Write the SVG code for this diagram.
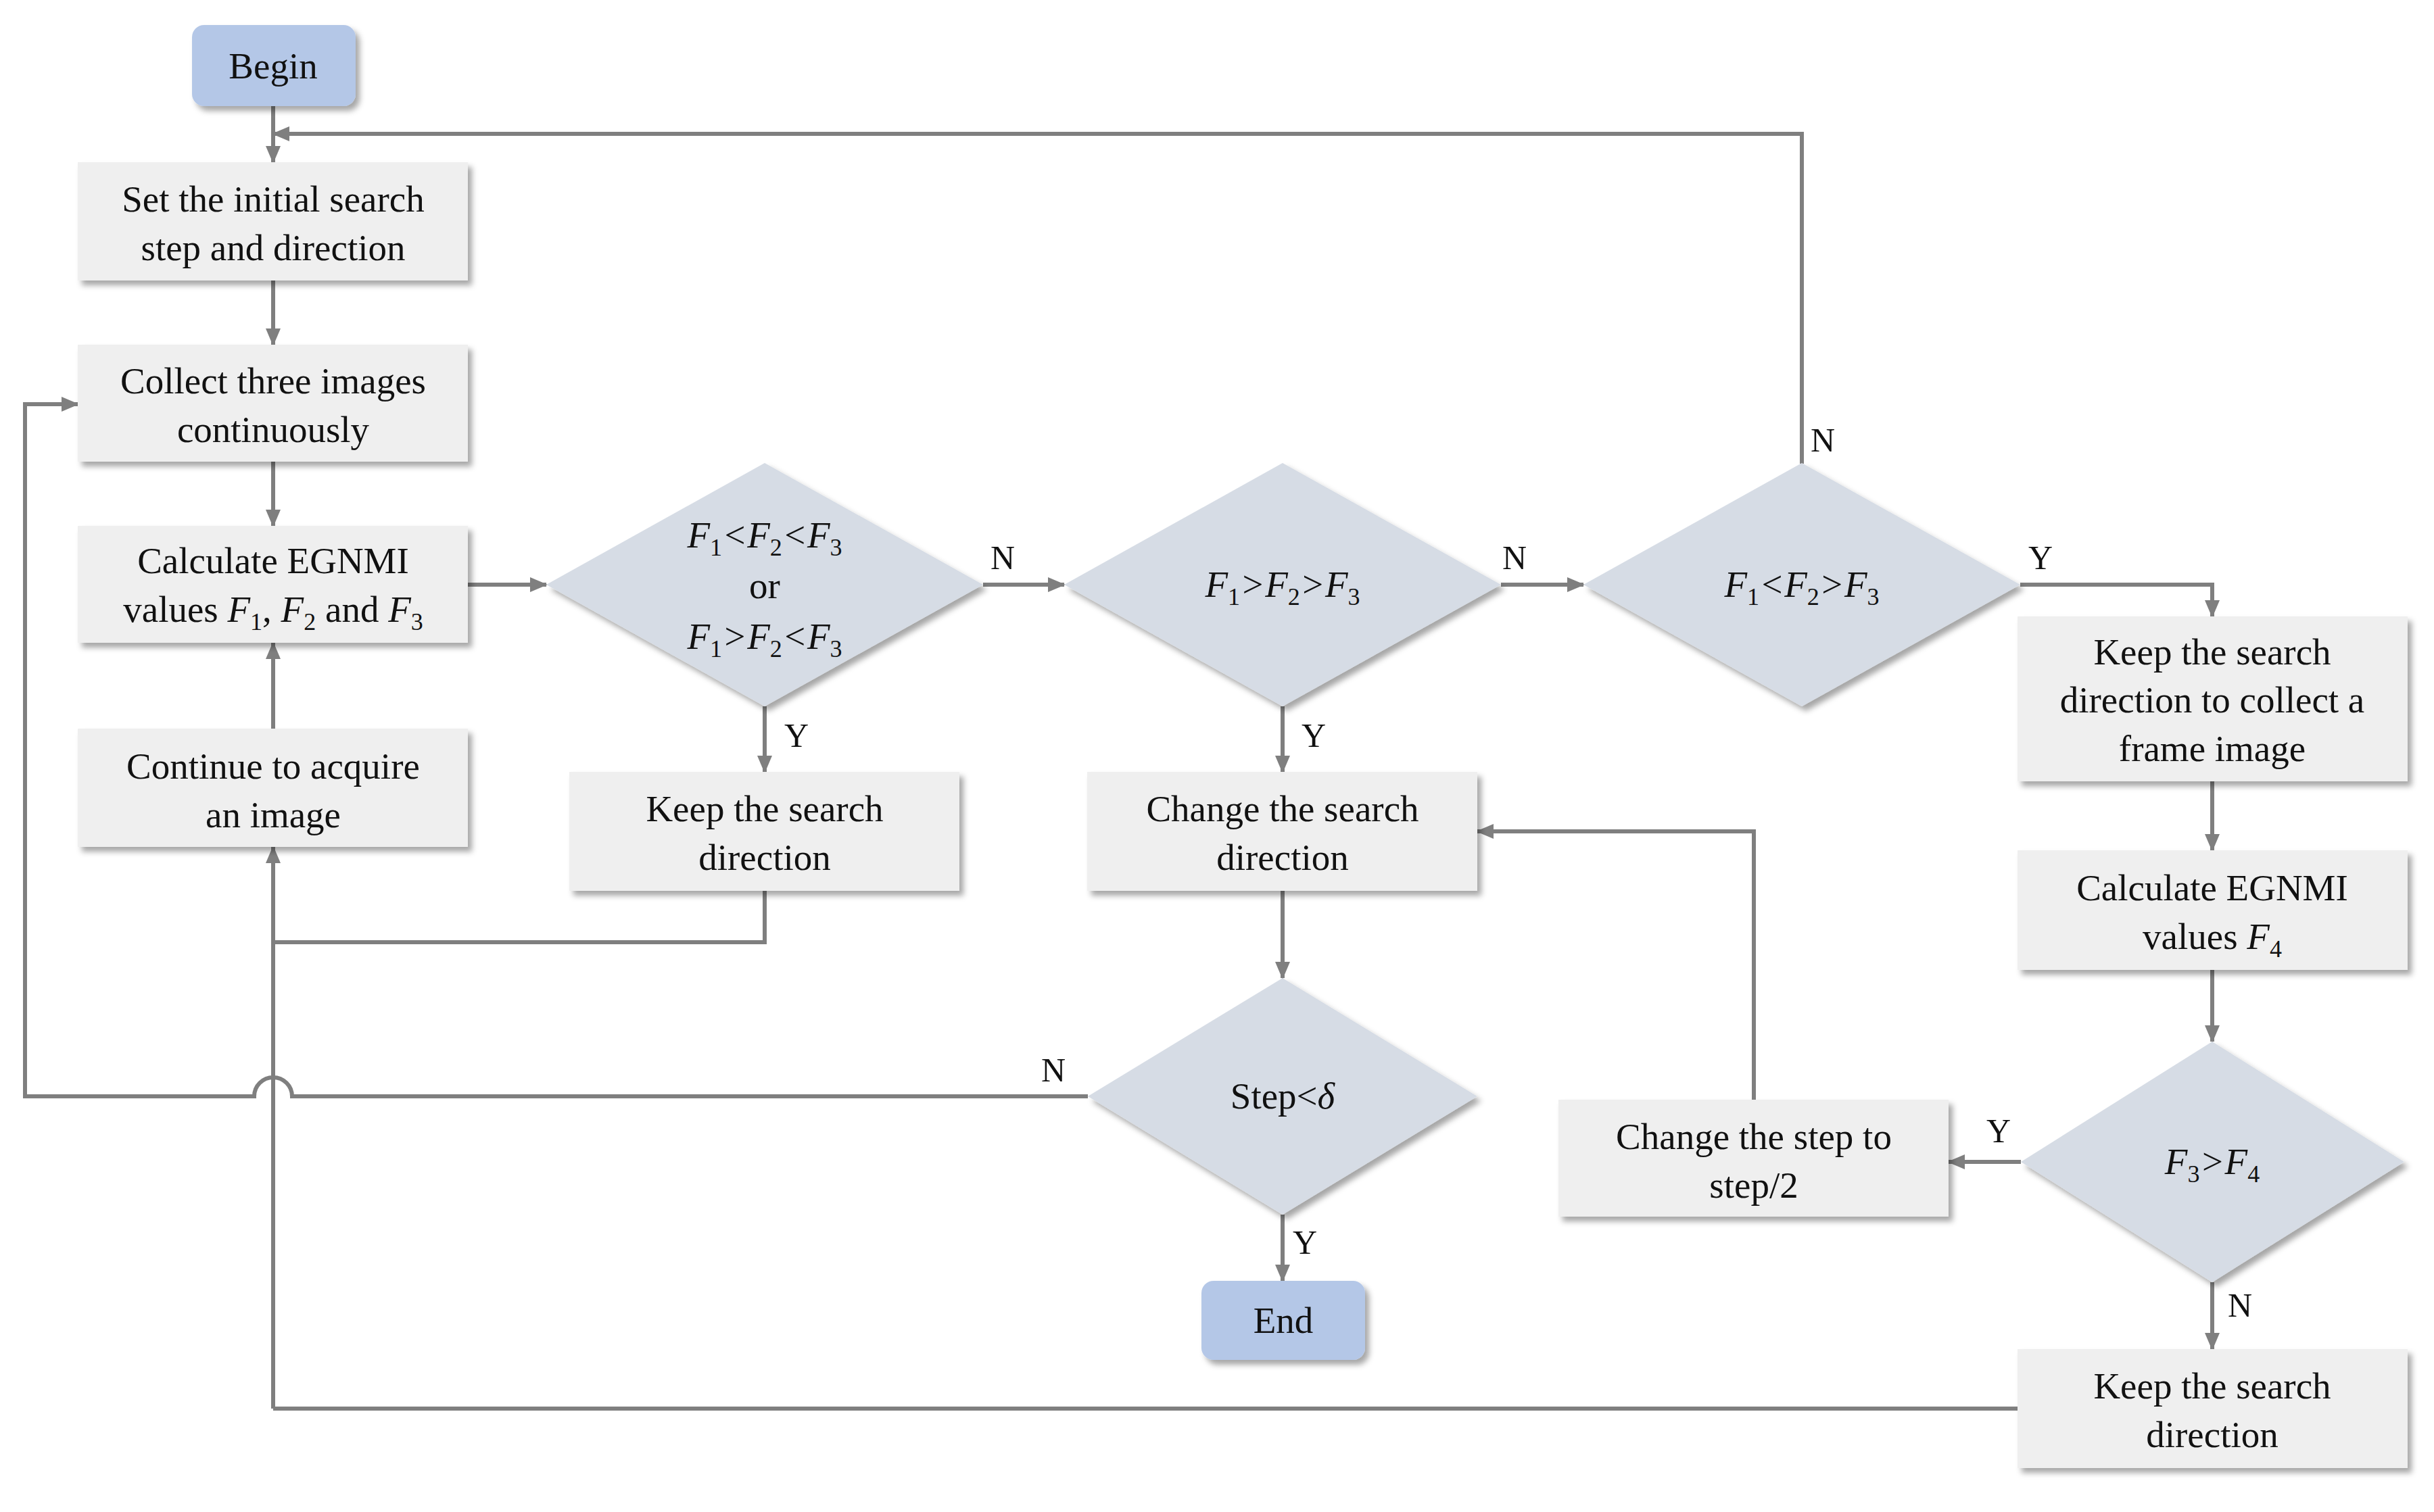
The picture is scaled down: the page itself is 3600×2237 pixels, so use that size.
<svg xmlns="http://www.w3.org/2000/svg" width="3600" height="2237" viewBox="0 0 3600 2237">
<defs>
<filter id="sh" x="-10%" y="-10%" width="125%" height="130%"><feDropShadow dx="6" dy="7" stdDeviation="4" flood-color="#000" flood-opacity="0.35"/></filter>
<marker id="ar" markerWidth="10" markerHeight="10" refX="9" refY="5" orient="auto" markerUnits="userSpaceOnUse" viewBox="0 0 10 10"><path d="M0,0 L10,5 L0,10 z" fill="#7f7f7f"/></marker>
<marker id="arb" markerWidth="26" markerHeight="26" refX="24" refY="13" orient="auto" markerUnits="userSpaceOnUse" viewBox="0 0 26 26"><path d="M0,2 L26,13 L0,24 z" fill="#7f7f7f"/></marker>
</defs>
<style>
.box{fill:#efefef;filter:url(#sh)}
.term{fill:#b4c7e7;filter:url(#sh)}
.dia{fill:#d6dce5;filter:url(#sh)}
text{font-family:"Liberation Serif","Times New Roman",serif;font-size:55px;fill:#111;text-anchor:middle}
.it{font-style:italic}
.lab{font-size:50px;text-anchor:start}
.c{fill:none;stroke:#7f7f7f;stroke-width:6}
.a{marker-end:url(#arb)}
</style>
<rect width="3600" height="2237" fill="#fff"/>

<g id="connectors">
<path class="c a" d="M404,157 V240"/>
<path class="c a" d="M2665,686 V198 H404"/>
<path class="c a" d="M404,415 V510"/>
<path class="c a" d="M404,683 V778"/>
<path class="c a" d="M692,865 H808"/>
<path class="c a" d="M1454,865 H1574"/>
<path class="c a" d="M2220,865 H2342"/>
<path class="c a" d="M2988,865 H3272 V912"/>
<path class="c a" d="M1131,1045 V1142"/>
<path class="c a" d="M1897,1045 V1142"/>
<path class="c" d="M1131,1318 V1394 H404"/>
<path class="c a" d="M404,2084 V1253"/>
<path class="c a" d="M404,1078 V951"/>
<path class="c a" d="M1897,1318 V1447"/>
<path class="c a" d="M1609,1622 H432 A28,28 0 0 0 376,1622 H37 V598 H115"/>
<path class="c a" d="M1897,1797 V1895"/>
<path class="c a" d="M3272,1156 V1258"/>
<path class="c a" d="M3272,1435 V1541"/>
<path class="c a" d="M2989,1719 H2882"/>
<path class="c a" d="M2594,1627 V1230 H2185"/>
<path class="c a" d="M3272,1897 V1996"/>
<path class="c" d="M2984,2084 H404"/>
</g>

<g id="labels">
<text class="lab" x="2678" y="668">N</text>
<text class="lab" x="1465" y="842">N</text>
<text class="lab" x="2222" y="842">N</text>
<text class="lab" x="3000" y="842">Y</text>
<text class="lab" x="1160" y="1105">Y</text>
<text class="lab" x="1925" y="1105">Y</text>
<text class="lab" x="1540" y="1600">N</text>
<text class="lab" x="1912" y="1855">Y</text>
<text class="lab" x="2938" y="1690">Y</text>
<text class="lab" x="3295" y="1948">N</text>
</g>

<g id="begin"><rect class="term" x="284" y="37" width="242" height="120" rx="18"/><text x="404" y="116">Begin</text></g>
<g id="set"><rect class="box" x="115" y="240" width="577" height="175"/><text x="404" y="313">Set the initial search</text><text x="404" y="385">step and direction</text></g>
<g id="collect"><rect class="box" x="115" y="510" width="577" height="173"/><text x="404" y="582">Collect three images</text><text x="404" y="654">continuously</text></g>
<g id="calc"><rect class="box" x="115" y="778" width="577" height="173"/><text x="404" y="848">Calculate  EGNMI</text><text x="404" y="920">values <tspan class="it">F</tspan><tspan font-size="36" dy="12">1</tspan><tspan dy="-12">, </tspan><tspan class="it">F</tspan><tspan font-size="36" dy="12">2</tspan><tspan dy="-12"> and </tspan><tspan class="it">F</tspan><tspan font-size="36" dy="12">3</tspan></text></g>
<g id="continue"><rect class="box" x="115" y="1078" width="577" height="175"/><text x="404" y="1152">Continue to acquire</text><text x="404" y="1224">an image</text></g>

<g id="d1"><polygon class="dia" points="1131,685 1454,865 1131,1045 808,865"/>
<text x="1131" y="810" class="it">F<tspan font-size="36" dy="12" font-style="normal">1</tspan><tspan dy="-12">&lt;F</tspan><tspan font-size="36" dy="12" font-style="normal">2</tspan><tspan dy="-12">&lt;F</tspan><tspan font-size="36" dy="12" font-style="normal">3</tspan></text>
<text x="1131" y="885">or</text>
<text x="1131" y="960" class="it">F<tspan font-size="36" dy="12" font-style="normal">1</tspan><tspan dy="-12">&gt;F</tspan><tspan font-size="36" dy="12" font-style="normal">2</tspan><tspan dy="-12">&lt;F</tspan><tspan font-size="36" dy="12" font-style="normal">3</tspan></text></g>

<g id="d2"><polygon class="dia" points="1897,685 2220,865 1897,1045 1574,865"/>
<text x="1897" y="883" class="it">F<tspan font-size="36" dy="12" font-style="normal">1</tspan><tspan dy="-12">&gt;F</tspan><tspan font-size="36" dy="12" font-style="normal">2</tspan><tspan dy="-12">&gt;F</tspan><tspan font-size="36" dy="12" font-style="normal">3</tspan></text></g>

<g id="d3"><polygon class="dia" points="2665,685 2988,865 2665,1045 2342,865"/>
<text x="2665" y="883" class="it">F<tspan font-size="36" dy="12" font-style="normal">1</tspan><tspan dy="-12">&lt;F</tspan><tspan font-size="36" dy="12" font-style="normal">2</tspan><tspan dy="-12">&gt;F</tspan><tspan font-size="36" dy="12" font-style="normal">3</tspan></text></g>

<g id="keep1"><rect class="box" x="842" y="1142" width="577" height="176"/><text x="1131" y="1215">Keep the search</text><text x="1131" y="1287">direction</text></g>
<g id="change"><rect class="box" x="1608" y="1142" width="577" height="176"/><text x="1897" y="1215">Change the search</text><text x="1897" y="1287">direction</text></g>

<g id="step"><polygon class="dia" points="1897,1447 2185,1622 1897,1797 1609,1622"/>
<text x="1897" y="1640">Step&lt;<tspan class="it">δ</tspan></text></g>
<g id="end"><rect class="term" x="1777" y="1895" width="242" height="117" rx="18"/><text x="1898" y="1972">End</text></g>

<g id="keepframe"><rect class="box" x="2984" y="912" width="577" height="244"/><text x="3272" y="983">Keep the search</text><text x="3272" y="1054">direction to collect a</text><text x="3272" y="1126">frame image</text></g>
<g id="calc4"><rect class="box" x="2984" y="1258" width="577" height="177"/><text x="3272" y="1332">Calculate  EGNMI</text><text x="3272" y="1404">values <tspan class="it">F</tspan><tspan font-size="36" dy="12">4</tspan></text></g>
<g id="d4"><polygon class="dia" points="3272,1541 3556,1719 3272,1897 2989,1719"/>
<text x="3272" y="1737" class="it">F<tspan font-size="36" dy="12" font-style="normal">3</tspan><tspan dy="-12">&gt;F</tspan><tspan font-size="36" dy="12" font-style="normal">4</tspan></text></g>
<g id="halve"><rect class="box" x="2305" y="1627" width="577" height="173"/><text x="2594" y="1700">Change the step to</text><text x="2594" y="1772">step/2</text></g>
<g id="keep2"><rect class="box" x="2984" y="1996" width="577" height="176"/><text x="3272" y="2069">Keep the search</text><text x="3272" y="2141">direction</text></g>
</svg>
